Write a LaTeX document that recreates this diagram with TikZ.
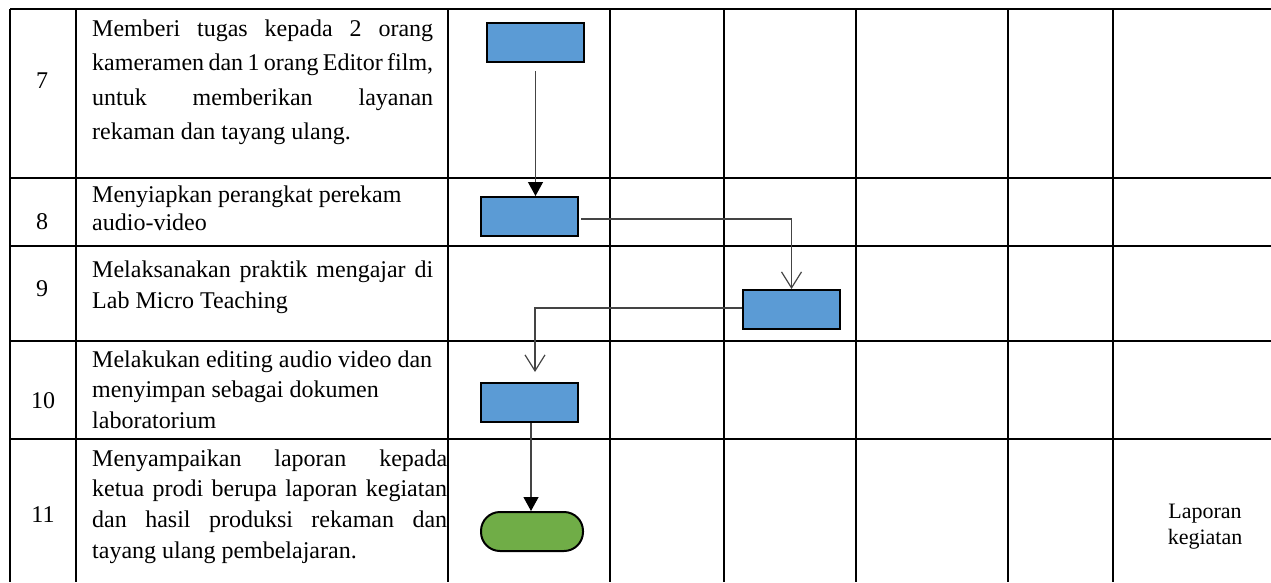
\documentclass[tikz,border=0pt]{standalone}
\usepackage{fontspec}
\setmainfont{Liberation Serif}
\usetikzlibrary{arrows.meta}
\definecolor{boxblue}{HTML}{5B9BD5}
\definecolor{termgreen}{HTML}{70AD47}
\definecolor{flowgray}{HTML}{444444}
\newcommand\jsp{\hskip 0pt plus 1fill\relax}
\newcommand\jline[2]{\leavevmode\hbox to #1{#2}}
\newcommand\normsp{\spaceskip=0.25em plus 0.125em minus 0.08em\relax\xspaceskip=0pt\relax}
\begin{document}
\begin{tikzpicture}[x=1pt,y=-1pt,
  tline/.style={line width=1.8pt, black},
  procbox/.style={draw=black, line width=2pt, fill=boxblue, minimum width=97pt, minimum height=39pt, inner sep=0pt},
  termbox/.style={draw=black, line width=2pt, fill=termgreen, rounded corners=19pt, minimum width=102pt, minimum height=39pt, inner sep=0pt},
  flowline/.style={draw=flowgray, line width=1.2pt},
  solidtip/.style={-{Triangle[width=15pt,length=14pt,black]}},
  opentip/.style={-{Straight Barb[width=20pt,length=16pt,line width=1.2pt]}},
  desctext/.style={anchor=base west, inner sep=0pt, text width=#1},
  numtext/.style={anchor=base, inner sep=0pt, font=\fontsize{24}{28}\selectfont}
]
\useasboundingbox (0,0) rectangle (1271,582);

% table grid
\foreach \yy in {9,178,246,341,439} \draw[tline] (10,\yy) -- (1271,\yy);
\foreach \xx in {10,76,448,610,724,856,1008,1113} \draw[tline] (\xx,9) -- (\xx,582);

% numbers
\node[numtext] (n7) at (42,88) {7};
\node[numtext] (n8) at (42,229) {8};
\node[numtext] (n9) at (42,296) {9};
\node[numtext] (n10) at (43,408) {10};
\node[numtext] (n11) at (43,522) {11};

% descriptions
\node[desctext=341pt, font=\fontsize{24}{34.5}\selectfont] (d7) at (92,36)
  {\normsp\jline{341pt}{Memberi\jsp tugas\jsp kepada\jsp 2\jsp orang}\\
   \jline{341pt}{kameramen\jsp dan\jsp 1\jsp orang\jsp Editor\jsp film,}\\
   \jline{341pt}{untuk\jsp memberikan\jsp layanan}\\
   rekaman dan tayang ulang.};
\node[desctext=341pt, font=\fontsize{24}{28}\selectfont] (d8) at (92,202)
  {\normsp Menyiapkan perangkat perekam\\ audio-video};
\node[desctext=341pt, font=\fontsize{24}{31}\selectfont] (d9) at (92,277)
  {\normsp\jline{341pt}{Melaksanakan\jsp praktik\jsp mengajar\jsp di}\\ Lab Micro Teaching};
\node[desctext=355pt, font=\fontsize{24}{30.5}\selectfont] (d10) at (92,367)
  {\normsp Melakukan editing audio video dan\\ menyimpan sebagai dokumen\\ laboratorium};
\node[desctext=355pt, font=\fontsize{24}{30.7}\selectfont] (d11) at (92,466)
  {\normsp\jline{355pt}{Menyampaikan\jsp laporan\jsp kepada}\\
   \jline{355pt}{ketua\jsp prodi\jsp berupa\jsp laporan\jsp kegiatan}\\
   \jline{355pt}{dan\jsp hasil\jsp produksi\jsp rekaman\jsp dan}\\
   tayang ulang pembelajaran.};

% output label
\node[anchor=base, inner sep=0pt, text width=110pt, align=center, font=\fontsize{22}{26}\selectfont] (lap) at (1205,518) {Laporan\\kegiatan};

% flow shapes
\node[procbox] (b7) at (535.5,42.5) {};
\node[procbox] (b8) at (529.5,216.5) {};
\node[procbox] (b9) at (791.5,309.5) {};
\node[procbox] (b10) at (529.5,402.5) {};
\node[termbox] (t11) at (532,531.5) {};

% connectors
\draw[flowline, solidtip] ([yshift=-8pt]b7.south) -- (b7.south |- b8.north);
\draw[flowline, opentip] ([xshift=2pt,yshift=-2.5pt]b8.east) -| (b9.north);
\draw[flowline, opentip, shorten >=10pt] ([yshift=1.5pt]b9.west) -| ([xshift=5.5pt]b10.north);
\draw[flowline, solidtip] ([xshift=1.5pt]b10.south) -- ([xshift=1.5pt]b10.south |- t11.north);
\end{tikzpicture}
\end{document}
